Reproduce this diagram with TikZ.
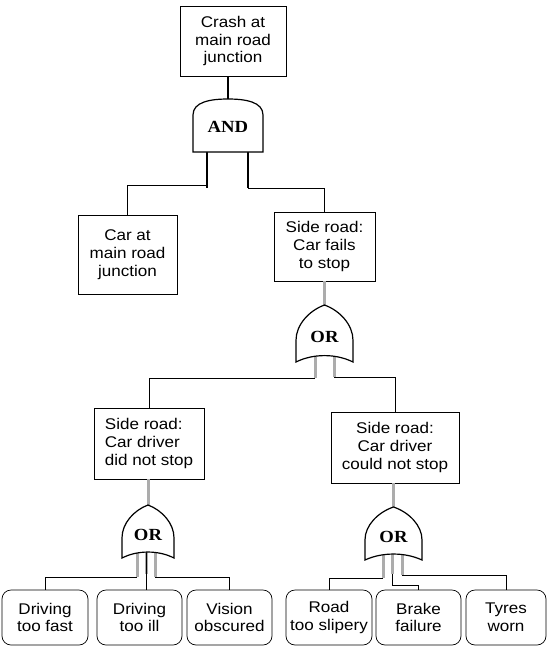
\documentclass[tikz,border=0pt]{standalone}
\usepackage{fontspec}
\setmainfont{Liberation Sans}[FakeStretch=1.1]
\newfontfamily\gatefont{Liberation Serif}[FakeStretch=1.1]

\tikzset{
  event/.style={draw, line width=0.7pt, align=center, inner sep=0pt,
    font=\fontsize{15.5}{17.7}\selectfont},
  basic/.style={event, rounded corners=9pt},
  gate/.style={draw, line width=1.2pt, fill=white},
  gatetxt/.style={font=\gatefont\bfseries\fontsize{17}{17}\selectfont},
  stem/.style={line width=2.4pt},
  graystem/.style={line width=3pt, gray!65},
  wire/.style={line width=0.6pt}
}

\begin{document}
\begin{tikzpicture}[x=1pt, y=-1pt]
  \useasboundingbox (0,0) rectangle (547,649);

  % events
  \node[event, minimum width=106pt, minimum height=70pt] (crash) at (233,41) {Crash at\\main road\\junction};
  \node[event, minimum width=99pt, minimum height=79pt] (carat) at (127.5,254.5) {Car at\\main road\\junction};
  \node[event, minimum width=101pt, minimum height=69pt] (fails) at (324.5,246.5) {Side road:\\Car fails\\to stop};
  \node[event, align=left, minimum width=110pt, minimum height=71pt] (didnot) at (149,443.5) {Side road:\\Car driver\\did not stop};
  \node[event, minimum width=128pt, minimum height=71pt] (couldnot) at (395,447.5) {Side road:\\Car driver\\could not stop};

  % basic events
  \foreach \n/\bx/\bw/\txt in {
      fast/45/86/{Driving\\too fast},
      ill/139.5/85/{Driving\\too ill},
      vision/229.5/85/{Vision\\obscured},
      slip/329/86/{Road\\too slipery},
      brake/418.5/85/{Brake\\failure},
      tyres/506/80/{Tyres\\worn}}
    \node[basic, minimum width=\bw pt, minimum height=55pt] (\n) at (\bx,617.5) {\txt};

  % AND gate
  \coordinate (andin) at (228,99);
  \coordinate (andL) at (207,150);
  \coordinate (andR) at (248,150);
  \draw[stem] (crash.south -| andin) -- (andin);
  \draw[stem] (andL) -- ++(0,38);
  \draw[stem] (andR) -- ++(0,38);
  \draw[wire] (andL) ++(0,35) -| (carat.north);
  \draw[wire] (andR) ++(0,38) -| (fails.north);
  \draw[gate] (193,152) -- (193,115) .. controls (193,102) and (210,99) .. (228,99)
    .. controls (246,99) and (263,102) .. (263,115) -- (263,152) -- cycle;
  \node[gatetxt] (andg) at (228,127) {AND};

  % OR gates: inputs and legs
  \coordinate (or1in) at (324.5,305);
  \coordinate (or1L) at (315,355);
  \coordinate (or1R) at (334,355);
  \draw[graystem] (fails.south -| or1in) -- (or1in);
  \draw[graystem] (or1L) -- ++(0,23);
  \draw[graystem] (or1R) -- ++(0,22);
  \draw[wire] (or1L) ++(0,23) -| (didnot.north);
  \draw[wire] (or1R) ++(0,22) -| (couldnot.north);

  \coordinate (or2in) at (148,505);
  \coordinate (or2L) at (137,552);
  \coordinate (or2M) at (146,552);
  \coordinate (or2R) at (155,552);
  \draw[graystem] (didnot.south -| or2in) -- (or2in);
  \draw[graystem] (or2L) -- ++(0,25);
  \draw[graystem] (or2M) -- ++(0,22);
  \draw[graystem] (or2R) -- ++(0,25);
  \draw[wire] (or2L) ++(0,25) -| (fast.north);
  \draw[wire] (or2M) -- (or2M |- ill.north);
  \draw[wire] (or2R) ++(0,25) -| (vision.north);

  \coordinate (or3in) at (393.5,507);
  \coordinate (or3L) at (383,554);
  \coordinate (or3M) at (392,554);
  \coordinate (or3R) at (402,554);
  \draw[graystem] (couldnot.south -| or3in) -- (or3in);
  \draw[graystem] (or3L) -- ++(0,24);
  \draw[graystem] (or3M) -- ++(0,20);
  \draw[graystem] (or3R) -- ++(0,21);
  \draw[wire] (or3L) ++(0,24) -| (slip.north);
  \draw[wire] (or3M) ++(0,20) -- ++(0,11) -| (brake.north);
  \draw[wire] (or3R) ++(0,21) -| (tyres.north);

  % OR gate bodies
  \foreach \g/\gx/\gy/\a/\h in {or1/324.5/305/28.5/57, or2/148/505/26/53, or3/393.5/507/28.5/53} {
    \draw[gate, shift={(\gx,\gy)}] (0,0)
      .. controls ({-0.55*\a},{0.1*\h}) and (-\a,{0.35*\h}) .. (-\a,{0.62*\h}) -- (-\a,\h)
      .. controls ({-0.4*\a},{0.85*\h}) and ({0.4*\a},{0.85*\h}) .. (\a,\h) -- (\a,{0.62*\h})
      .. controls (\a,{0.35*\h}) and ({0.55*\a},{0.1*\h}) .. cycle;
    \node[gatetxt] (\g) at (\gx,{\gy+0.56*\h}) {OR};
  }
\end{tikzpicture}
\end{document}
